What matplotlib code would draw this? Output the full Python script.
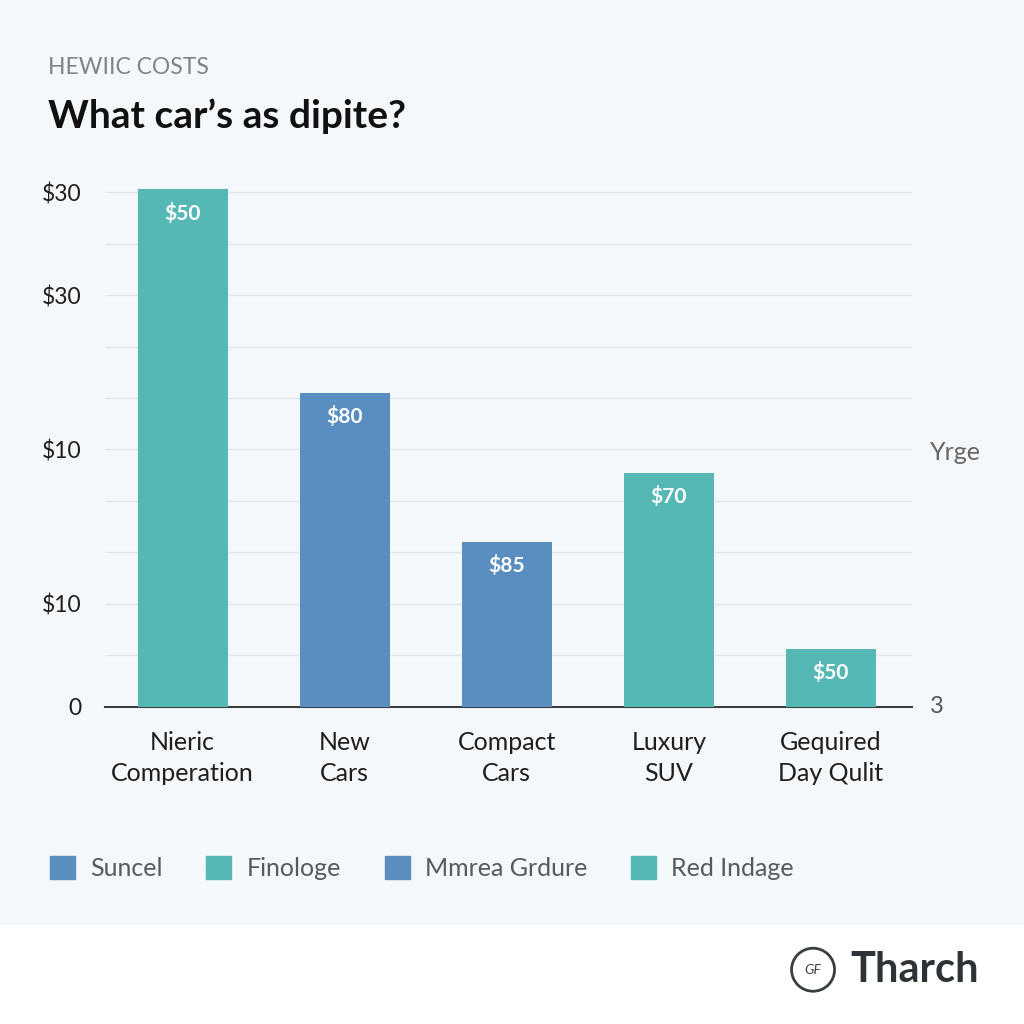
import numpy as np
import matplotlib
matplotlib.use("Agg")
import matplotlib.pyplot as plt
from matplotlib.patches import Rectangle, Circle
from matplotlib.transforms import blended_transform_factory

plt.rcParams['font.family'] = ['Lato', 'DejaVu Sans']

# data
categories = ["Nieric\nComperation", "New\nCars", "Compact\nCars",
              "Luxury\nSUV", "Gequired\nDay Qulit"]
values = [100.5, 61, 32, 45.4, 11.3]
bar_labels = ["$50", "$80", "$85", "$70", "$50"]
ytick_vals = [0, 20, 50, 80, 100]
ytick_text = ["0", "$10", "$10", "$30", "$30"]
legend_names = ["Suncel", "Finologe", "Mmrea Grdure", "Red Indage"]

TEAL = "#55b8b5"
BLUE = "#5b8ec0"
bar_colors = [TEAL, BLUE, BLUE, TEAL, TEAL]
legend_colors = [BLUE, TEAL, BLUE, TEAL]
BG = "#f4f8fb"

fig = plt.figure(figsize=(10.24, 10.24), dpi=100, facecolor=BG)
# white footer strip
fig.patches.append(Rectangle((0, 0), 1, 0.097, transform=fig.transFigure,
                             facecolor="white", edgecolor="none", zorder=0))

ax = fig.add_axes([0.1025, 0.3096, 0.788, 0.5079])
ax.set_facecolor(BG)
x = np.arange(len(categories))
bars = ax.bar(x, values, width=0.556, color=bar_colors, zorder=3)

for b, lab in zip(bars, bar_labels):
    ax.annotate(lab, (b.get_x() + b.get_width() / 2, b.get_height()),
                xytext=(0, -17), textcoords="offset points",
                ha="center", va="center", color="white",
                fontsize=15, fontweight="bold", zorder=4)

ax.set_xlim(-0.48, 4.5)
ax.set_ylim(0, 101)
ax.set_yticks(ytick_vals)
ax.set_yticklabels(ytick_text)
ax.set_yticks(np.arange(0, 101, 10), minor=True)
ax.yaxis.grid(True, which="both", color="#e2e6ea", lw=1, zorder=0)
ax.tick_params(axis="y", which="both", length=0, pad=17, labelsize=16.5,
               labelcolor="#1e1e1e")
ax.set_xticks(x)
ax.set_xticklabels(categories, linespacing=1.42)
ax.tick_params(axis="x", length=0, pad=17, labelsize=18, labelcolor="#1e1e1e")
for s in ["top", "right", "left"]:
    ax.spines[s].set_visible(False)
ax.spines["bottom"].set_color("#3a3f44")
ax.spines["bottom"].set_linewidth(1.5)

tr = blended_transform_factory(ax.transAxes, ax.transData)
ax.text(1.022, 49.5, "Yrge", transform=tr, fontsize=18, color="#666666",
        va="center", ha="left")
ax.text(1.022, 0, "3", transform=tr, fontsize=17, color="#555555",
        va="center", ha="left")

fig.text(0.047, 0.934, "HEWIIC COSTS", fontsize=16.5, color="#808488",
         va="center", ha="left")
fig.text(0.047, 0.887, "What car\u2019s as dipite?", fontsize=28,
         fontweight="bold", color="#111111", va="center", ha="left")

handles = [Rectangle((0, 0), 1, 1, color=c) for c in legend_colors]
fig.legend(handles, legend_names, loc="center left",
           bbox_to_anchor=(0.027, 0.152), ncol=4, frameon=False,
           fontsize=18, handlelength=1.0, handleheight=1.0,
           handletextpad=0.6, columnspacing=1.75, labelcolor="#555a60")

# footer logo
fig.patches.append(Circle((0.794, 0.053), 0.021, transform=fig.transFigure,
                          facecolor="white", edgecolor="#3a3f44", lw=2))
fig.text(0.794, 0.053, "GF", fontsize=10, color="#3a3f44", ha="center",
         va="center", fontstyle="italic")
fig.text(0.83, 0.053, "Tharch", fontsize=30, fontweight="bold",
         color="#2e3338", ha="left", va="center")

fig.savefig("out.png", dpi=100, facecolor=BG)
